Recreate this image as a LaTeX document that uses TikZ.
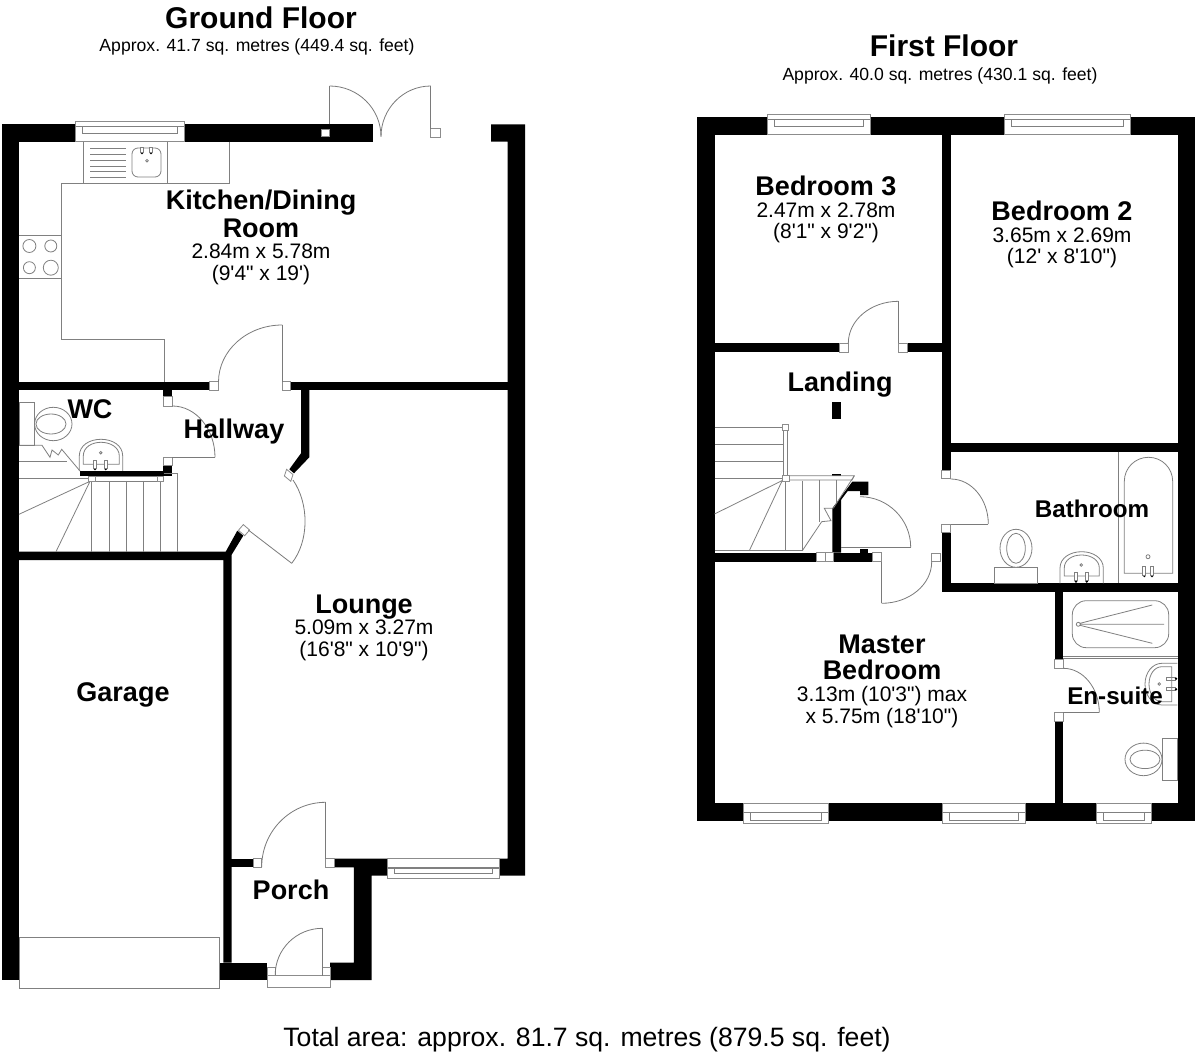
\documentclass[tikz,border=0pt]{standalone}
\usepackage{fontspec}
\usetikzlibrary{calc}
\newfontfamily\lib{Liberation Sans}
\newcommand\bn{\bfseries\fontsize{27}{21.5}\selectfont}
\lineskiplimit=-100pt
\tikzset{
 wall/.style={fill=black,draw=none},
 thinl/.style={draw=black!52,line width=0.8pt},
 fix/.style={draw=black!50,line width=0.8pt},
 jamb/.style={draw=black!45,fill=white,line width=0.8pt},
 room/.style={font=\lib\fontsize{21}{21.5}\selectfont,align=center,inner sep=0pt,text=black},
 rname/.style={font=\lib\bn,align=center,inner sep=0pt,text=black},
 rsmall/.style={font=\lib\bfseries\fontsize{24.2}{26}\selectfont,inner sep=0pt,text=black},
 title/.style={font=\lib\bfseries\fontsize{30}{32}\selectfont,inner sep=0pt},
 sub/.style={font=\lib\fontsize{17.6}{20}\selectfont,inner sep=0pt},
}
\newcommand\qarc[3]{\draw[thinl] #1 .. controls ($#1!.5523!#3$) and ($#2!.5523!#3$) .. #2;}
\newcommand\win[6]{% x1 x2 y1 y2 l1 l2
 \draw[jamb] (#1,#3) rectangle (#2,#4);
 \draw[fix] (#1+7,#5) rectangle (#2-7,#6);
 \draw[fix] (#1,#5) -- (#1+7,#5) (#2-7,#5) -- (#2,#5);
}
\newcommand\jb[4]{\draw[jamb] (#1,#2) rectangle (#3,#4);}
\newcommand\tap[3]{\fill[black] (#1,#3) circle (1.3);\draw[fix,fill=white] (#1-1.5,#2) rectangle (#1+1.5,#3-1);}
\begin{document}
\begin{tikzpicture}[x=1pt,y=-1pt]
\useasboundingbox (0,0) rectangle (1200,1056);
\fill[white] (0,0) rectangle (1200,1056);
% ---------- GROUND FLOOR walls
\fill[wall] (2,124.3) rectangle (75,141.7);
\fill[wall] (184,124.3) rectangle (372.5,141.7);
\fill[wall] (2,124.3) rectangle (19.3,980);
\fill[wall] (507.5,141.7) -- (507.5,858.7) -- (499,858.7) -- (499,875.7) -- (525,875.7) -- (525,124.3) -- (491,124.3) -- (491,141.7) -- cycle;
\fill[wall] (19,381.7) rectangle (209,390);
\fill[wall] (290.7,381.7) rectangle (507.5,390);
\fill[wall] (163.3,390) rectangle (172.3,396.7);
\fill[wall] (163.3,465.7) rectangle (172.3,473);
\fill[wall] (80,471) rectangle (172.3,476.3);
\fill[wall] (309.3,390) -- (309.3,457.3) -- (294,473.3) -- (289.3,469.3) -- (301,453.3) -- (301,390) -- cycle;
\fill[wall] (19,551.7) -- (225.7,551.7) -- (237.3,530.7) -- (243.3,535.7) -- (231.5,555) -- (231.5,962.7) -- (223.3,962.7) -- (223.3,560) -- (19,560) -- cycle;
\fill[wall] (219.5,962.7) rectangle (267,980);
\fill[wall] (231,858.5) rectangle (253.3,867.3);
\fill[wall] (334.2,858.5) -- (387,858.5) -- (387,875.7) -- (371.5,875.7) -- (371.5,980) -- (330,980) -- (330,962.7) -- (353.8,962.7) -- (353.8,867.3) -- (334.2,867.3) -- cycle;
% ground windows and jambs
\win{75}{184}{121.3}{141.7}{126.7}{133}
\win{387}{499}{858.5}{878.7}{868.3}{873.3}
\draw[fix] (387,867.3) -- (499,867.3);
\jb{321.7}{129}{329.6}{136.7}
\jb{430.8}{128.7}{440}{137.3}
\jb{209}{381.7}{218.7}{390}
\jb{282.3}{381.7}{290.7}{390}
\jb{163.3}{396.7}{172.3}{406}
\jb{163.3}{457.3}{172.3}{465.7}
\jb{253.3}{858.5}{261.7}{867.3}
\jb{325.7}{858.5}{334.2}{867.3}
\jb{267}{967.3}{275.2}{975.7}
\jb{322.4}{967.3}{330}{975.7}
\draw[jamb] (267,975.7) rectangle (330,987.3);
\draw[jamb] (286.6,469.3) -- (293,474.6) -- (290.8,481.3) -- (284.4,476) -- cycle;
\draw[jamb] (243.3,524.6) -- (249.6,530) -- (244.7,535.7) -- (238.4,530.3) -- cycle;
% ground doors
\draw[thinl] (329.6,124.3) -- (329.6,86);
\qarc{(329.6,86)}{(381,136.7)}{(381,86)}
\draw[thinl] (430.8,128.7) -- (430.8,86);
\qarc{(430.8,86)}{(381,136.7)}{(381,86)}
\draw[thinl] (282.3,382) -- (282.3,325);
\qarc{(282.3,325)}{(218.5,382)}{(218.5,325)}
\draw[thinl] (172.3,457.3) -- (215,457.3);
\qarc{(215,457.3)}{(172.3,406)}{(215,406)}
\draw[thinl] (291.7,563.3) -- (248.3,530);
\qarc{(291.7,563.3)}{(293,480)}{(323,524)}
\draw[thinl] (325.7,802.3) -- (325.7,858.5);
\qarc{(325.7,802.3)}{(261.7,867)}{(261.7,802.3)}
\draw[thinl] (322.4,928.3) -- (322.4,975.7);
\qarc{(322.4,928.3)}{(275.2,975)}{(275.2,928.3)}
% garage door
\draw[fix,fill=white] (19.3,937.3) rectangle (219.5,988.3);
% kitchen fittings
\draw[fix] (229.6,141.7) -- (229.6,183.7) -- (61.1,183.7) -- (61.1,339) -- (164,339) -- (164,382);
\draw[fix] (83.4,141.7) -- (83.4,183.7) (167.3,141.7) -- (167.3,183.7);
\foreach \yy in {148.3,154,160,166,171.7,177.3} \draw[fix] (90.2,\yy) -- (125.5,\yy);
\draw[fix,rounded corners=6pt] (132,148) rectangle (161,177);
\tap{142}{147.5}{153}\tap{151}{147.5}{153}
\draw[fix] (147,160.7) circle (1.3);
\draw[fix] (19.3,235.3) -- (61.1,235.3) (19.3,278) -- (61.1,278);
\draw[fix] (29.4,246) circle (6.5) (50.8,246) circle (6) (29.4,267.7) circle (6) (50.8,267.7) circle (7.5);
% WC fittings
\draw[fix] (19,402.7) rectangle (34.3,445.3);
\draw[fix] (53.3,424) ellipse (18.7 and 16.7);
\draw[fix] (51,424) ellipse (15 and 10);
\draw[fix] (19,445.3) -- (42,445.3) -- (50,457.3) -- (52,450) -- (58.3,455) -- (61.7,449.3) -- (80,471);
\draw[fix] (19,461.3) -- (67,461.3);
\draw[fix] (79.3,471) -- (79.3,456) .. controls (79.3,445) and (90,439.3) .. (101,439.3) .. controls (112,439.3) and (122.7,445) .. (122.7,456) -- (122.7,471);
\draw[fix] (83.3,464.3) -- (83.3,456) .. controls (83.3,447) and (92,442.3) .. (101,442.3) .. controls (110,442.3) and (119.3,447) .. (119.3,456) -- (119.3,464.3) -- cycle;
\tap{95}{460}{469}\tap{105.7}{460}{469}
\draw[fix] (100.7,452.7) circle (1.3);
% ground stairs
\draw[fix] (95.7,476.5) -- (157.3,476.5) (95.7,481) -- (157.3,481);
\draw[fix] (163.7,473.3) -- (177.7,473.3) -- (177.7,551.7);
\foreach \xx in {91.7,109.3,126.3,143.7,160.3} \draw[fix] (\xx,481) -- (\xx,551.7);
\draw[fix] (90,481.3) -- (19,514.3) (90,481.3) -- (56,551.7);
\draw[fix] (19,478.3) -- (88.3,478.3);
\jb{88.3}{476}{95.7}{481.3}
\jb{157.3}{476}{163.7}{481.3}
% ---------- FIRST FLOOR walls
\fill[wall] (697,117.5) rectangle (714.5,821);
\fill[wall] (697,117.5) rectangle (768,135);
\fill[wall] (870,117.5) rectangle (1005,135);
\fill[wall] (1130,117.5) rectangle (1195,135);
\fill[wall] (1177.5,117.5) rectangle (1195,821);
\fill[wall] (697,803.3) rectangle (743,821);
\fill[wall] (828,803.3) rectangle (942,821);
\fill[wall] (1025,803.3) rectangle (1096,821);
\fill[wall] (1151,803.3) rectangle (1195,821);
\fill[wall] (942.3,135) rectangle (950.7,470);
\fill[wall] (714,343.3) rectangle (839.5,352);
\fill[wall] (907,343.3) rectangle (942.5,352);
\fill[wall] (950,443.3) rectangle (1177.5,452);
\fill[wall] (941.7,532.7) rectangle (950.7,591.7);
\fill[wall] (941.7,583.3) rectangle (1177.5,591.7);
\fill[wall] (714,552.7) rectangle (816.7,561.7);
\fill[wall] (833.3,552.7) rectangle (872.7,561.7);
\fill[wall] (832.3,508.3) -- (852.3,481.7) -- (868.3,481.7) -- (868.3,495) -- (860,495) -- (860,491) -- (847.7,491) -- (841,500) -- (841,552.7) -- (832.3,552.7) -- cycle;
\fill[wall] (860,549.3) rectangle (868.3,552.7);
\fill[wall] (831.7,402) rectangle (841,419);
\fill[wall] (832.3,474) rectangle (841,476);
\fill[wall] (1054.7,591.7) rectangle (1063.3,659.3);
\fill[wall] (1054.7,721) rectangle (1063.3,803.3);
% first floor windows and jambs
\win{767.5}{870.3}{114.7}{134.7}{119.3}{126}
\win{1004}{1130}{114.7}{134.7}{119.3}{126}
\win{743}{828}{803.3}{823.3}{812.7}{820}
\win{942}{1025}{803.3}{823.3}{812.7}{820}
\win{1096}{1151}{803.3}{823.3}{812.7}{820}
\jb{839.5}{343.3}{848.3}{352}
\jb{898.5}{343.3}{907}{352}
\jb{941.7}{470}{950.7}{478.3}
\jb{941.7}{524.7}{950.7}{532.7}
\jb{816.7}{552.7}{825}{561.7}
\jb{825}{552.7}{833.3}{561.7}
\jb{872.7}{552.7}{881.7}{561.7}
\jb{931.7}{553.3}{940.7}{561.7}
\jb{1054.7}{659.3}{1063.3}{668}
\jb{1054.7}{712.7}{1063.3}{721}
% first floor doors
\draw[thinl] (898.5,301.3) -- (898.5,343.3);
\qarc{(898.5,301.3)}{(848.3,343.3)}{(848.3,301.3)}
\draw[thinl] (950.7,524) -- (988.3,524);
\qarc{(988.3,524)}{(950.7,479)}{(988.3,479)}
\draw[thinl] (841,547.3) -- (910.7,547.3);
\qarc{(910.7,547.3)}{(860,496.7)}{(910.7,496.7)}
\draw[thinl] (881.7,561.7) -- (881.7,603.3);
\qarc{(881.7,603.3)}{(931.7,561.7)}{(931.7,603.3)}
\draw[thinl] (1099.3,712.7) -- (1063.3,712.7);
\qarc{(1099.3,712.7)}{(1063.3,668.3)}{(1099.3,668.3)}
% first floor stairs
\foreach \yy in {427.3,444.3,461.3,478.3} \draw[fix] (714.5,\yy) -- (782.7,\yy);
\draw[fix] (783.3,430.7) rectangle (787.3,476);
\draw[fix] (787,475.7) -- (854.3,475.7) -- (852,480) -- (789,480);
\draw[fix] (785.3,481) -- (785.3,550.7) (802.3,481) -- (802.3,550.7) (819.3,480) -- (819.3,521.7) (836.7,480) -- (836.7,502.7);
\draw[fix] (854.3,475.7) -- (833.3,508.3);
\draw[fix] (802.3,550.7) -- (821.7,521.7) -- (831,520.7) -- (824.3,508.3) -- (832.3,508.3);
\draw[fix] (783.3,480) -- (714.5,514) (781.7,481.7) -- (749.3,550.7);
\draw[fix] (714.5,550.7) -- (802.3,550.7);
\jb{782.3}{424.7}{788.3}{430.7}
\jb{782.7}{475.7}{789}{481.7}
% bathroom fittings
\draw[fix] (1118.3,452) -- (1118.3,583.3);
\draw[fix] (1124.3,573.3) -- (1124.3,481.5) .. controls (1124.3,468) and (1135,457.3) .. (1148.5,457.3) .. controls (1162,457.3) and (1172.7,468) .. (1172.7,481.5) -- (1172.7,573.3) -- cycle;
\tap{1144.3}{566.7}{576}\tap{1152}{566.7}{576}
\draw[fix] (1148,556.7) circle (2);
\draw[fix] (994.3,583.3) rectangle (1037.7,567.3);
\draw[fix,fill=white] (1016,548.3) ellipse (16 and 19);
\draw[fix] (1016,548.3) ellipse (9.3 and 15);
\draw[fix] (1060,583.3) -- (1060,568) .. controls (1060,558) and (1070,551.7) .. (1081.7,551.7) .. controls (1093,551.7) and (1103.3,558) .. (1103.3,568) -- (1103.3,583.3);
\draw[fix] (1064.3,576) -- (1064.3,568) .. controls (1064.3,560) and (1072,555) .. (1081.7,555) .. controls (1091,555) and (1099.3,560) .. (1099.3,568) -- (1099.3,576) -- cycle;
\tap{1076}{572.7}{581.5}\tap{1086.7}{572.7}{581.5}
\draw[fix] (1081.3,565) circle (1.3);
% en-suite fittings
\draw[fix] (1063.3,656.7) -- (1177.5,656.7) (1063.3,658.4) -- (1177.5,658.4);
\draw[fix,rounded corners=14pt] (1072.3,600.7) rectangle (1168.7,647.7);
\draw[fix] (1078.3,624.3) circle (2);
\draw[fix] (1152.3,605) -- (1080,623.3) (1164,624.3) -- (1080,624.3) (1152.3,643.3) -- (1080,625.3);
\draw[fix] (1177.3,663.3) -- (1162,663.3) .. controls (1152,663.3) and (1145,673) .. (1145,684.2) .. controls (1145,695) and (1152,705) .. (1162,705) -- (1177.3,705);
\draw[fix] (1171.7,666.7) -- (1162,666.7) .. controls (1154,666.7) and (1149,675) .. (1149,684.2) .. controls (1149,693) and (1154,701.7) .. (1162,701.7) -- (1171.7,701.7) -- cycle;
\draw[fix] (1166.7,677.2) rectangle (1175.5,680.2) (1166.7,687.8) rectangle (1175.5,690.8);
\fill[black] (1176,678.7) circle (1.3) (1176,689.3) circle (1.3);
\draw[fix] (1159.3,684) circle (1.3);
\draw[fix,fill=white] (1162.3,738.3) rectangle (1177.3,780.7);
\draw[fix,fill=white] (1143.5,759.4) ellipse (18.5 and 16.3);
\draw[fix] (1145,759.4) ellipse (15 and 9.2);
% ---------- TEXT
\node[title] (gftitle) at (261,18) {Ground Floor};
\node[sub] (gfsub) at (257,47) {Approx. 41.7 sq. metres (449.4 sq. feet)};
\node[title] (fftitle) at (944,46) {First Floor};
\node[sub] (ffsub) at (940,76) {Approx. 40.0 sq. metres (430.1 sq. feet)};
\node[font=\lib\fontsize{26.6}{28}\selectfont,inner sep=0pt] (total) at (587,1040) {Total area: approx. 81.7 sq. metres (879.5 sq. feet)};
\node[room] (kitchen) at (261,237.3) {{\bn Kitchen/Dining}\\[6.5pt]{\bn Room}\\[0pt]2.84m x 5.78m\\(9'4" x 19')};
\node[rname] (wc) at (90,409) {WC};
\node[rname] (hallway) at (234,432) {Hallway};
\node[room] (lounge) at (364,627.5) {{\bn Lounge}\\[0pt]5.09m x 3.27m\\(16'8" x 10'9")};
\node[rname] (garage) at (123,695) {Garage};
\node[rname] (porch) at (291,890) {Porch};
\node[room] (bed3) at (826,209.5) {{\bn Bedroom 3}\\[0pt]2.47m x 2.78m\\(8'1" x 9'2")};
\node[room] (bed2) at (1062,234.5) {{\bn Bedroom 2}\\[0pt]3.65m x 2.69m\\(12' x 8'10")};
\node[rname] (landing) at (840,385) {Landing};
\node[rsmall] (bathroom) at (1092,509) {Bathroom};
\node[room] (master) at (882,681.5) {{\bn Master}\\[4.5pt]{\bn Bedroom}\\[0.5pt]3.13m (10'3") max\\x 5.75m (18'10")};
\node[rsmall] (ensuite) at (1115,696) {En-suite};
\end{tikzpicture}
\end{document}
